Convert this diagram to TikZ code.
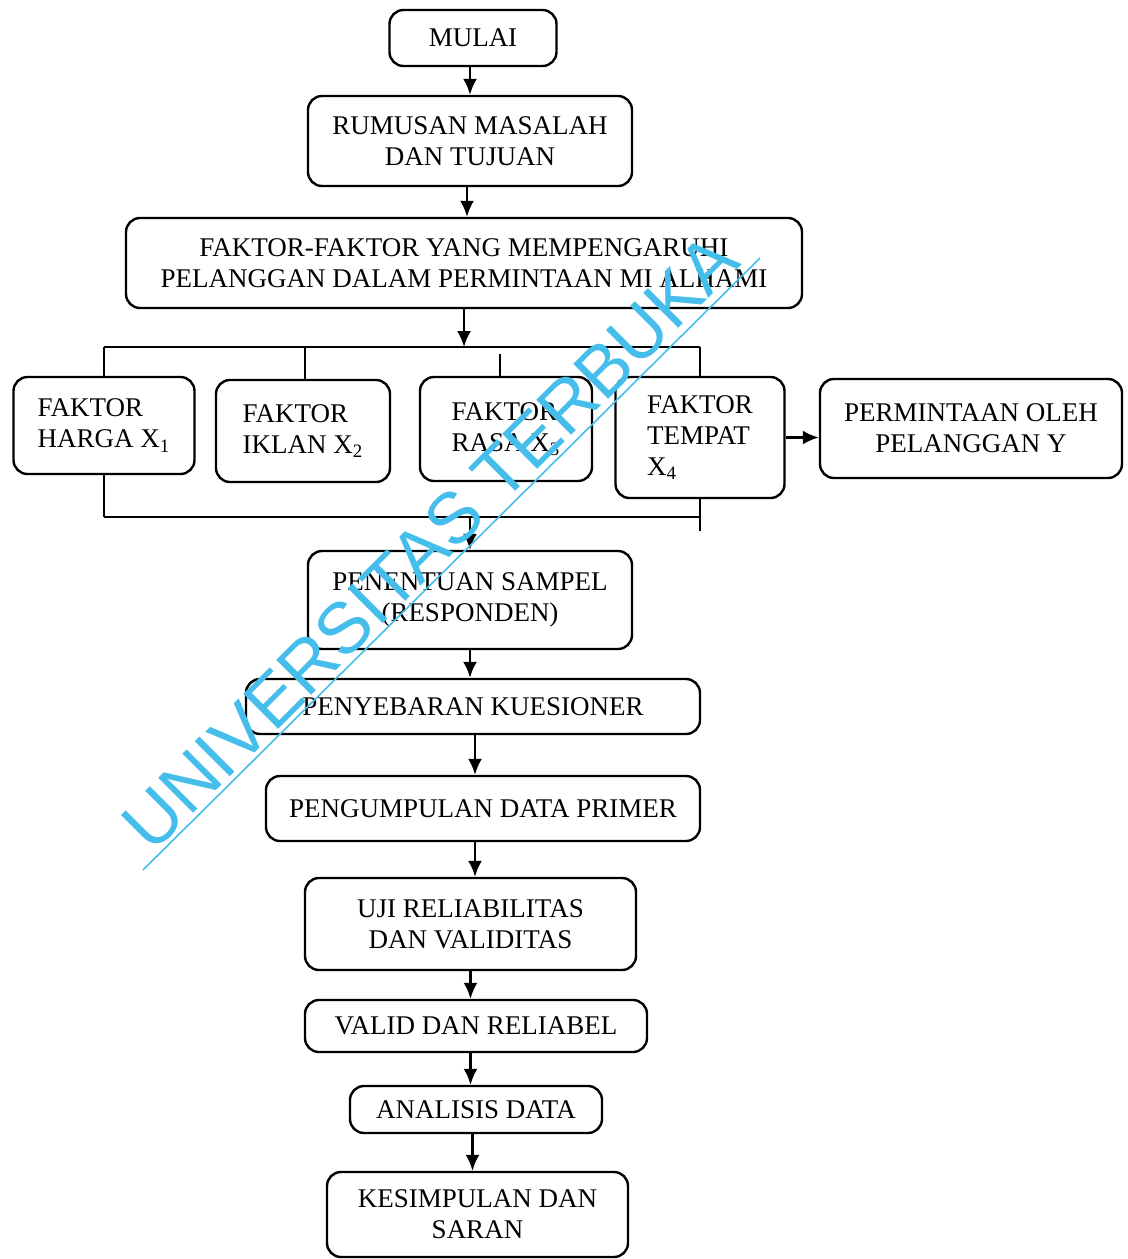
\documentclass[tikz,border=0pt]{standalone}
\usepackage{fontspec}
\setmainfont{Liberation Serif}
\newfontfamily\wmfont{Liberation Sans}
\usetikzlibrary{arrows.meta}
\definecolor{wmcyan}{RGB}{70,190,235}
\begin{document}
\begin{tikzpicture}[x=0.5pt, y=-0.5pt, line width=1.2pt, >={Latex[length=8pt,width=7pt]}]

\tikzstyle{every node} = [font=\fontsize{13.5}{15.5}\selectfont]
\tikzstyle{box} = [draw, rounded corners=7pt, align=center, inner sep=0pt]
\tikzstyle{fbox} = [box, align=left]

\useasboundingbox (0,0) rectangle (1128,1259);

\node[box, minimum width=83.5pt, minimum height=28pt] (mulai) at (473,38) {MULAI};
\node[box, minimum width=162pt, minimum height=45pt] (rumus) at (470,141) {RUMUSAN MASALAH\\DAN TUJUAN};
\node[box, minimum width=338pt, minimum height=45pt] (fak) at (464,263) {FAKTOR-FAKTOR YANG MEMPENGARUHI\\PELANGGAN DALAM PERMINTAAN MI ALHAMI};

\node[fbox, minimum width=90.5pt, minimum height=48.5pt] (x1) at (104,425.5) {FAKTOR\\HARGA X\textsubscript{1}};
\node[fbox, minimum width=87pt, minimum height=51pt] (x2) at (303,431) {FAKTOR\\IKLAN X\textsubscript{2}};
\node[fbox, minimum width=86pt, minimum height=52pt] (x3) at (506,429) {FAKTOR\\RASA X\textsubscript{3}};
\node[fbox, minimum width=84.5pt, minimum height=60.5pt] (x4) at (700,437.5) {FAKTOR\\TEMPAT\\X\textsubscript{4}};
\node[box, minimum width=151pt, minimum height=49.5pt] (y) at (971,428.5) {PERMINTAAN OLEH\\PELANGGAN Y};

\node[box, minimum width=162pt, minimum height=49pt] (sampel) at (470,600) {PENENTUAN SAMPEL\\(RESPONDEN)};
\node[box, minimum width=227pt, minimum height=27.5pt] (sebar) at (473,706.5) {PENYEBARAN KUESIONER};
\node[box, minimum width=217pt, minimum height=32.5pt] (kumpul) at (483,808.5) {PENGUMPULAN DATA PRIMER};
\node[box, minimum width=165.5pt, minimum height=46pt] (uji) at (470.5,924) {UJI RELIABILITAS\\DAN VALIDITAS};
\node[box, minimum width=171pt, minimum height=26pt] (valid) at (476,1026) {VALID DAN RELIABEL};
\node[box, minimum width=126pt, minimum height=23.5pt] (anal) at (476,1109.5) {ANALISIS DATA};
\node[box, minimum width=150.5pt, minimum height=42.5pt] (simpul) at (477.5,1214.5) {KESIMPULAN DAN\\SARAN};

\coordinate (tl) at (104,347);
\coordinate (tr) at (700,347);
\coordinate (tm) at (464,347);
\coordinate (bl) at (104,517);
\coordinate (br) at (700,517);
\coordinate (bm) at (470,517);

\draw[->] (rumus.north |- mulai.south) -- (rumus.north);
\draw[->] ([xshift=-1.5pt]rumus.south) -- ([xshift=-1.5pt]rumus.south |- fak.north);
\draw[->] (fak.south) -- (tm);

\draw[-] (tl) -- (tr);
\draw[-] (tl) -- (x1.north);
\draw[-] ([xshift=1pt]x2.north) -- ([xshift=1pt]x2.north |- tl);
\draw[-] ([xshift=-3pt]x3.north) -- ++(0,-22);
\draw[-] (x4.north) -- (tr);

\draw[-] (x1.south) -- (bl);
\draw[-] (bl) -- (br);
\draw[-] (x4.south) -- ++(0,32);
\draw[->] (bm) -- (sampel.north);

\draw[->] (x4.east) -- (x4.east -| y.west);

\draw[->] (sampel.south) -- (sampel.south |- sebar.north);
\draw[->] ([xshift=1pt]sebar.south) -- ([xshift=1pt]sebar.south |- kumpul.north);
\draw[->] ([xshift=1pt]kumpul.south -| sebar.south) -- ([xshift=1pt]uji.north -| sebar.south);
\draw[->] (uji.south) -- (uji.south |- valid.north);
\draw[->] (uji.south |- valid.south) -- (uji.south |- anal.north);
\draw[->] ([xshift=1pt]uji.south |- anal.south) -- ([xshift=1pt]uji.south |- simpul.north);

% watermark
\node[rotate=45, text=wmcyan, font=\wmfont\fontsize{36}{36}\selectfont] (wm) at (430,542) {UNIVERSITAS TERBUKA};
\coordinate (wa) at (143,870);
\coordinate (wb) at (760,258);
\draw[wmcyan, line width=0.8pt] (wa) -- (wb);

\end{tikzpicture}
\end{document}
